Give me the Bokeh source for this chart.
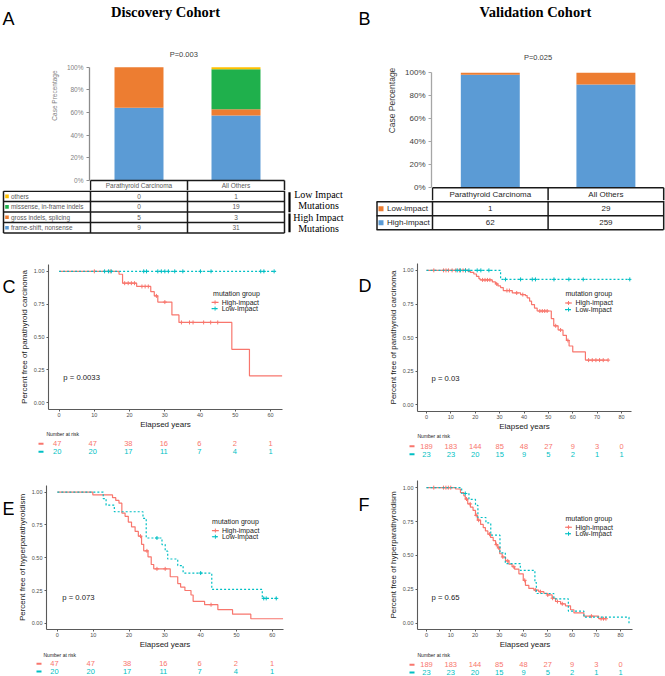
import numpy as np
from bokeh.plotting import figure
from bokeh.models import Range1d, FixedTicker, NumeralTickFormatter
from bokeh.layouts import column, row
from bokeh.embed import file_html
from bokeh.resources import INLINE
from bokeh.core.properties import value

SANS = "Liberation Sans"
SERIF = "Liberation Serif"
RED, TEAL = "#F8766D", "#00BFC4"
BLUE, ORANGE, GREEN, YELLOW = "#5B9BD5", "#ED7D31", "#1FB04C", "#FFC000"
DOT = "2 2"

# ---------------- data: panel A (Discovery cohort) ----------------
a_categories = ["Parathyroid Carcinoma", "All Others"]
a_frameshift = [9, 31]
a_gross = [5, 3]
a_missense = [0, 19]
a_others = [0, 1]
a_row_labels = ["others", "missense, in-frame indels", "gross indels, splicing", "frame-shift, nonsense"]
a_pvalue = "P=0.003"
pct_ticks = [0, 0.2, 0.4, 0.6, 0.8, 1.0]

# ---------------- data: panel B (Validation cohort) ----------------
b_categories = ["Parathyroid Carcinoma", "All Others"]
b_high = [62, 259]
b_low = [1, 29]
b_row_labels = ["Low-impact", "High-impact"]
b_pvalue = "P=0.025"

# ---------------- data: panel C ----------------
c_hi_t = [0, 17, 18, 22, 26, 27, 28, 32, 34, 49, 54]
c_hi_s = [1.0, 0.978, 0.91, 0.885, 0.845, 0.813, 0.766, 0.668, 0.611, 0.406, 0.204]
c_hi_end = 63.3
c_hi_cens = [10, 14.5, 18.6, 19.6, 20.5, 21.4, 23.5, 24.4, 25.3, 27.6, 30, 34.7, 37, 38, 41, 43, 45]
c_lo_t = [0]
c_lo_s = [1.0]
c_lo_end = 61.4
c_lo_cens = [12.9, 14.0, 14.8, 24.0, 24.8, 28.0, 29.0, 30.0, 31.0, 32.8, 35.1, 40.1, 43.1, 57.2, 58.1, 61.0]
c_risk_t = [0, 10, 20, 30, 40, 50, 60]
c_risk_hi = [47, 47, 38, 16, 6, 2, 1]
c_risk_lo = [20, 20, 17, 11, 7, 4, 1]

# ---------------- data: panel D ----------------
d_hi_t = [0, 17, 18, 19.4, 20.5, 21.5, 22, 27, 28.3, 29.3, 30.4, 31.5, 35.2, 38.6, 40.6, 41.3, 42.3,
          43.1, 44.3, 45.4, 51.2, 52.2, 54, 56, 57.4, 58.5, 60, 65.2]
d_hi_s = [1.0, 0.993, 0.985, 0.973, 0.956, 0.938, 0.929, 0.914, 0.899, 0.884, 0.872, 0.85, 0.832, 0.82,
          0.813, 0.796, 0.771, 0.746, 0.72, 0.698, 0.642, 0.588, 0.557, 0.517, 0.479, 0.438, 0.394, 0.333]
d_hi_end = 74.5
d_hi_cens = [3, 7, 8, 9, 10.5, 12, 13.5, 15, 16, 23, 24, 25, 26, 28.8, 33, 34, 37, 39.5, 46.5, 47.5,
             48.5, 49.5, 53, 55, 58, 66.5, 68, 69.5, 71, 72.5, 74.5]
d_lo_t = [0, 30.4]
d_lo_s = [1.0, 0.933]
d_lo_end = 83.4
d_lo_cens = [12.6, 13.9, 16.0, 17.4, 20.8, 22.3, 25.6, 32.4, 38.6, 43.4, 44.7, 52.3, 58.4, 64.3, 83.4]
d_risk_t = [0, 10, 20, 30, 40, 50, 60, 70, 80]
d_risk_hi = [189, 183, 144, 85, 48, 27, 9, 3, 0]
d_risk_lo = [23, 23, 20, 15, 9, 5, 2, 1, 1]

# ---------------- data: panel E ----------------
e_hi_t = [0, 9.9, 15.4, 16.3, 17.2, 18.0, 18.9, 19.8, 20.7, 21.7, 22.6, 23.5, 24.1, 25.3, 26.2, 26.9,
          31.5, 33.6, 34.4, 35.6, 37.3, 37.9, 41.1, 44.8, 48.9, 54.0]
e_hi_s = [1.0, 0.978, 0.957, 0.936, 0.915, 0.84, 0.815, 0.771, 0.735, 0.70, 0.664, 0.602, 0.552, 0.507,
          0.448, 0.415, 0.355, 0.303, 0.276, 0.25, 0.216, 0.167, 0.142, 0.104, 0.07, 0.035]
e_hi_end = 63.0
e_hi_cens = [23.2, 25.0, 27.8, 30.1, 42.9]
e_lo_t = [0, 12.8, 13.6, 15.9, 23.9, 24.8, 29.2, 30.1, 30.8, 33.6, 35.1, 43.1, 57.2]
e_lo_s = [1.0, 0.95, 0.90, 0.85, 0.80, 0.65, 0.60, 0.55, 0.49, 0.44, 0.383, 0.259, 0.19]
e_lo_end = 61.1
e_lo_cens = [27.8, 40.0, 57.6, 58.3, 61.1]
e_risk_t = [0, 10, 20, 30, 40, 50, 60]
e_risk_hi = [47, 47, 38, 16, 6, 2, 1]
e_risk_lo = [20, 20, 17, 11, 7, 4, 1]

# ---------------- data: panel F ----------------
f_hi_t = [0, 12, 14, 15.4, 16, 17, 18.1, 19.2, 20.2, 21, 22.3, 23.4, 24.3, 25.3, 26.4, 27.5, 28.5, 29.4,
          30.2, 31.2, 32.6, 34, 35.3, 36.3, 38.1, 39.9, 40.8, 42.2, 44.3, 46.3, 48.4, 49.8, 51.8, 53.2,
          55.3, 57.3, 59.4, 60.8, 64.9, 71]
f_hi_s = [1.0, 0.99, 0.964, 0.94, 0.916, 0.88, 0.856, 0.832, 0.796, 0.76, 0.729, 0.705, 0.681, 0.657,
          0.633, 0.609, 0.58, 0.556, 0.513, 0.489, 0.46, 0.436, 0.417, 0.40, 0.365, 0.317, 0.28, 0.257,
          0.245, 0.233, 0.221, 0.209, 0.185, 0.161, 0.144, 0.129, 0.10, 0.077, 0.053, 0.034]
f_hi_end = 74.0
f_hi_cens = [3, 7, 8, 9, 10, 16.5, 18, 20.5, 21.5, 26, 28.8, 29.8, 31.5, 33.5, 36, 40.5, 45, 47, 50,
             52, 54, 56, 68, 72, 73, 74]
f_lo_t = [0, 14.5, 17.5, 20.2, 21.2, 24.5, 26.5, 30.3, 32.5, 38.7, 44.7, 45.3, 52.5, 58.5, 64.9, 83.5]
f_lo_s = [1.0, 0.957, 0.913, 0.87, 0.78, 0.74, 0.65, 0.52, 0.44, 0.39, 0.30, 0.22, 0.18, 0.09, 0.045, 0.0]
f_lo_end = 83.5
f_lo_cens = [16.0]
f_risk_t = [0, 10, 20, 30, 40, 50, 60, 70, 80]
f_risk_hi = [189, 183, 144, 85, 48, 27, 9, 3, 0]
f_risk_lo = [23, 23, 20, 15, 9, 5, 2, 1, 1]

km_yticks = [0, 0.25, 0.5, 0.75, 1.0]


# ---------------- helpers ----------------
def new_fig(w, h, xr, yr, ml=0, mr=0, mt=0, mb=0, xloc=None, yloc=None):
    p = figure(width=int(round(w)), height=int(round(h)), x_range=xr, y_range=yr,
               output_backend="svg", toolbar_location=None,
               x_axis_location=xloc, y_axis_location=yloc, min_border=0,
               min_border_left=int(round(ml)), min_border_right=int(round(mr)),
               min_border_top=int(round(mt)), min_border_bottom=int(round(mb)))
    p.outline_line_color = None
    p.xgrid.grid_line_color = None
    p.ygrid.grid_line_color = None
    p.background_fill_color = "white"
    p.border_fill_color = "white"
    return p


def txt(p, x, y, s, size, color="#222222", align="left", baseline="middle", font=SANS,
        style="normal", xr="px", yr="px"):
    p.text(x=list(x), y=list(y), text=list(s), text_font=value(font), text_font_size=size,
           text_color=color, text_align=align, text_baseline=baseline, text_font_style=style,
           x_range_name=xr, y_range_name=yr)


def letter_fig(L, R, T, B, s, x, y):
    p = new_fig(R - L, B - T, Range1d(L, R), Range1d(B, T))
    txt(p, [x], [y], [s], "18px", color="black", baseline="alphabetic", xr="default", yr="default")
    return p


def surv_at(times, surv, t):
    idx = np.searchsorted(np.array(times), np.array(t), side="right") - 1
    return np.array(surv)[idx]


def style_pct_axis(ax, label, tick_size, tick_color, line_color, label_size, standoff):
    ax.bounds = (0, 1)
    ax.ticker = FixedTicker(ticks=pct_ticks)
    ax.formatter = NumeralTickFormatter(format="0%")
    ax.axis_line_color = line_color
    ax.axis_line_width = 1.3
    ax.major_tick_out = 3
    ax.major_tick_in = 0
    ax.major_tick_line_color = line_color
    ax.minor_tick_line_color = None
    ax.major_label_text_font = SANS
    ax.major_label_text_font_size = tick_size
    ax.major_label_text_color = tick_color
    ax.major_label_standoff = 3
    ax.axis_label = label
    ax.axis_label_text_font = SANS
    ax.axis_label_text_font_size = label_size
    ax.axis_label_text_font_style = "normal"
    ax.axis_label_text_color = tick_color
    ax.axis_label_standoff = standoff


# ================= Panel A =================
A_L, A_R, A_T, A_S, A_B, A_LW = 0, 345, 0, 190, 240, 16
ax0, aunit = 90.0, 97.0          # pixel of category boundary 0.5, pixels per category
ay0, ay1 = 180.0, 66.7           # pixel of 0% and 100%
aky = ay0 - ay1
a_fl, a_fr = 89, 286
a_x = list(np.arange(len(a_categories)) + 1)

pA = new_fig(A_R - A_L - A_LW, A_S - A_T,
             Range1d(0.5 + (a_fl - ax0) / aunit, 0.5 + (a_fr - ax0) / aunit),
             Range1d((ay0 - A_S) / aky, (ay0 - A_T) / aky),
             ml=a_fl - A_L - A_LW, mr=A_R - a_fr, yloc="left")
pA.extra_x_ranges = {"px": Range1d(a_fl, a_fr)}
pA.extra_y_ranges = {"px": Range1d(A_S, A_T)}
style_pct_axis(pA.yaxis[0], "Case Precentage", "6.5px", "#7f7f7f", "#8c8c8c", "6.5px", 6)

a_tot = np.array(a_frameshift) + np.array(a_gross) + np.array(a_missense) + np.array(a_others)
bottom = np.zeros(len(a_x))
for vals, col in zip([a_frameshift, a_gross, a_missense, a_others], [BLUE, ORANGE, GREEN, YELLOW]):
    frac = np.array(vals) / a_tot
    pA.vbar(x=a_x, bottom=list(bottom), top=list(bottom + frac), width=0.505,
            fill_color=col, line_color=None)
    bottom = bottom + frac

a_edges = [0.5 + i for i in range(len(a_categories) + 1)]
pA.segment(x0=[a_edges[0]], x1=[a_edges[-1]], y0=[0], y1=[0], line_color="#1a1a1a", line_width=1.5)
pA.segment(x0=a_edges, x1=a_edges, y0=[0] * len(a_edges), y1=[pA.y_range.start] * len(a_edges),
           line_color="#1a1a1a", line_width=1.5)
txt(pA, a_x, [185] * len(a_x), a_categories, "6.5px", color="#595959", align="center", xr="default")
txt(pA, [165], [11.5], ["Discovery Cohort"], "14.5px", color="black", align="center",
    baseline="alphabetic", font=SERIF, style="bold")
txt(pA, [183.3], [54], [a_pvalue], "7.5px", color="#404040", align="center")
letA = letter_fig(A_L, A_L + A_LW, A_T, A_S, "A", 2, 18)

pA2 = new_fig(A_R - A_L, A_B - A_S,
              Range1d(0.5 + (A_L - ax0) / aunit, 0.5 + (A_R - ax0) / aunit),
              Range1d(A_B, A_S))
pA2.extra_x_ranges = {"px": Range1d(A_L, A_R)}
pA2.extra_y_ranges = {"px": Range1d(A_B, A_S)}
a_row_lines = [190.7, 201.1, 211.6, 222.0, 232.5]
pA2.segment(x0=[3] * 5, x1=[284] * 5, y0=a_row_lines, y1=a_row_lines,
            line_color="#1a1a1a", line_width=1.5, x_range_name="px", y_range_name="px")
pA2.segment(x0=[3], x1=[3], y0=[a_row_lines[0]], y1=[a_row_lines[-1]],
            line_color="#1a1a1a", line_width=1.5, x_range_name="px", y_range_name="px")
pA2.segment(x0=a_edges, x1=a_edges, y0=[A_S] * len(a_edges), y1=[a_row_lines[-1]] * len(a_edges),
            line_color="#1a1a1a", line_width=1.5)
a_row_vals = [a_others, a_missense, a_gross, a_frameshift]
a_row_cols = [YELLOW, GREEN, ORANGE, BLUE]
a_row_y = [(a_row_lines[i] + a_row_lines[i + 1]) / 2 for i in range(4)]
pA2.rect(x=[6.5] * 4, y=a_row_y, width=3.6, height=3.6, fill_color=a_row_cols, line_color=None,
         x_range_name="px", y_range_name="px")
txt(pA2, [10.5] * 4, a_row_y, a_row_labels, "6.4px", color="#595959")
for i, vals in enumerate(a_row_vals):
    txt(pA2, a_x, [a_row_y[i]] * len(a_x), [str(v) for v in vals], "6.5px", color="#595959",
        align="center", xr="default")
pA2.segment(x0=[289, 289], x1=[289, 289], y0=[191.7, 213.0], y1=[211.7, 231.7],
            line_color="black", line_width=2.2, x_range_name="px", y_range_name="px")
txt(pA2, [318] * 4, [194, 205, 217, 228], ["Low Impact", "Mutations", "High Impact", "Mutations"],
    "10px", color="black", align="center", font=SERIF)

# ================= Panel B =================
B_L, B_R, B_T, B_S, B_B, B_LW = 345, 665, 0, 200, 240, 26
bx0, bunit = 432.0, 115.6
by0, by1 = 187.3, 72.3
bky = by0 - by1
b_fl, b_fr = 431, 665
b_x = list(np.arange(len(b_categories)) + 1)

pB = new_fig(B_R - B_L - B_LW, B_S - B_T,
             Range1d(0.5 + (b_fl - bx0) / bunit, 0.5 + (b_fr - bx0) / bunit),
             Range1d((by0 - B_S) / bky, (by0 - B_T) / bky),
             ml=b_fl - B_L - B_LW, mr=B_R - b_fr, yloc="left")
pB.extra_x_ranges = {"px": Range1d(b_fl, b_fr)}
pB.extra_y_ranges = {"px": Range1d(B_S, B_T)}
style_pct_axis(pB.yaxis[0], "Case Percentage", "8px", "#404040", "#a6a6a6", "8.5px", 5)

b_tot = np.array(b_high) + np.array(b_low)
b_hf = np.array(b_high) / b_tot
pB.vbar(x=b_x, bottom=[0] * len(b_x), top=list(b_hf), width=0.51, fill_color=BLUE, line_color=None)
pB.vbar(x=b_x, bottom=list(b_hf), top=list(b_hf + np.array(b_low) / b_tot), width=0.51,
        fill_color=ORANGE, line_color=None)
b_edges = [0.5 + i for i in range(len(b_categories) + 1)]
pB.segment(x0=[b_edges[0]], x1=[b_edges[-1]], y0=[0], y1=[0], line_color="#1a1a1a", line_width=1.5)
pB.segment(x0=b_edges, x1=b_edges, y0=[0] * len(b_edges), y1=[pB.y_range.start] * len(b_edges),
           line_color="#1a1a1a", line_width=1.5)
txt(pB, b_x, [194.3] * len(b_x), b_categories, "8px", color="#262626", align="center", xr="default")
txt(pB, [535], [11.5], ["Validation Cohort"], "14.5px", color="black", align="center",
    baseline="alphabetic", font=SERIF, style="bold")
txt(pB, [537.5], [56.7], [b_pvalue], "7.5px", color="#404040", align="center")
letB = letter_fig(B_L, B_L + B_LW, B_T, B_S, "B", 358, 18)

pB2 = new_fig(B_R - B_L, B_B - B_S,
              Range1d(0.5 + (B_L - bx0) / bunit, 0.5 + (B_R - bx0) / bunit),
              Range1d(B_B, B_S))
pB2.extra_x_ranges = {"px": Range1d(B_L, B_R)}
pB2.extra_y_ranges = {"px": Range1d(B_B, B_S)}
b_row_lines = [201.3, 215.3, 229.3]
pB2.segment(x0=[376] * 3, x1=[663] * 3, y0=b_row_lines, y1=b_row_lines,
            line_color="#1a1a1a", line_width=1.5, x_range_name="px", y_range_name="px")
pB2.segment(x0=[376.5], x1=[376.5], y0=[b_row_lines[0]], y1=[b_row_lines[-1]],
            line_color="#1a1a1a", line_width=1.5, x_range_name="px", y_range_name="px")
pB2.segment(x0=b_edges, x1=b_edges, y0=[B_S] * len(b_edges), y1=[b_row_lines[-1]] * len(b_edges),
            line_color="#1a1a1a", line_width=1.5)
b_row_y = [(b_row_lines[i] + b_row_lines[i + 1]) / 2 for i in range(2)]
pB2.rect(x=[380.5] * 2, y=b_row_y, width=5, height=5, fill_color=[ORANGE, BLUE], line_color=None,
         x_range_name="px", y_range_name="px")
txt(pB2, [386.5] * 2, b_row_y, b_row_labels, "8px", color="#262626")
for i, vals in enumerate([b_low, b_high]):
    txt(pB2, b_x, [b_row_y[i]] * len(b_x), [str(v) for v in vals], "8px", color="#262626",
        align="center", xr="default")


# ================= KM panels =================
def km_panel(L, R, T, S, B, LW, frame, xmap, ymap, xticks, ylabel, curves, pval, pval_xy, leg,
             letter_s, letter_xy, risk_t, risk_hi, risk_lo, risk_geo):
    fl, fr, ft, fb = frame
    x0px, kx = xmap
    y1px, y0px = ymap
    ky = y0px - y1px
    p = new_fig(R - L - LW, S - T, Range1d((fl - x0px) / kx, (fr - x0px) / kx),
                Range1d((y0px - fb) / ky, (y0px - ft) / ky),
                ml=fl - L - LW, mr=R - fr, mt=ft - T, mb=S - fb, xloc="below", yloc="left")
    p.extra_x_ranges = {"px": Range1d(fl, fr)}
    p.extra_y_ranges = {"px": Range1d(fb, ft)}
    for ax in (p.xaxis[0], p.yaxis[0]):
        ax.axis_line_color = "#5a5a5a"
        ax.axis_line_width = 1.1
        ax.major_tick_line_color = "#5a5a5a"
        ax.major_tick_out = 2
        ax.major_tick_in = 0
        ax.minor_tick_line_color = None
        ax.major_label_text_font = SANS
        ax.major_label_text_font_size = "5.5px"
        ax.major_label_text_color = "#4d4d4d"
        ax.axis_label_text_font = SANS
        ax.axis_label_text_font_size = "8px"
        ax.axis_label_text_font_style = "normal"
        ax.axis_label_text_color = "#1a1a1a"
    p.xaxis[0].ticker = FixedTicker(ticks=xticks)
    p.yaxis[0].ticker = FixedTicker(ticks=km_yticks)
    p.yaxis[0].formatter = NumeralTickFormatter(format="0.00")
    p.xaxis[0].axis_label = "Elapsed years"
    p.yaxis[0].axis_label = ylabel
    p.xaxis[0].major_label_standoff = 1
    p.yaxis[0].major_label_standoff = 2
    p.xaxis[0].axis_label_standoff = 0
    p.yaxis[0].axis_label_standoff = 2

    for (t, s, end, cens, color, dash) in curves:
        p.step(x=list(t) + [end], y=list(s) + [s[-1]], mode="after", line_color=color,
               line_width=1.2, line_dash=dash)
        if len(cens):
            p.scatter(x=list(cens), y=list(surv_at(t, s, cens)), marker="cross", size=4,
                      line_color=color, line_width=1)

    txt(p, [pval_xy[0]], [pval_xy[1]], [pval], "7.7px", color="#1a1a1a")
    (tx, ty), sx, lx, (yh, yl) = leg
    txt(p, [tx], [ty], ["mutation group"], "7px", color="#1a1a1a")
    for yy, col, dash, lab in [(yh, RED, "solid", "High-impact"), (yl, TEAL, DOT, "Low-Impact")]:
        p.segment(x0=[sx - 3.5], x1=[sx + 3.5], y0=[yy], y1=[yy], line_color=col, line_width=1.2,
                  line_dash=dash, x_range_name="px", y_range_name="px")
        p.scatter(x=[sx], y=[yy], marker="cross", size=4, line_color=col,
                  x_range_name="px", y_range_name="px")
        txt(p, [lx], [yy], [lab], "7px", color="#1a1a1a")
    pl = letter_fig(L, L + LW, T, S, letter_s, letter_xy[0], letter_xy[1])

    p2 = new_fig(R - L, B - S, Range1d((L - x0px) / kx, (R - x0px) / kx), Range1d(B, S))
    p2.extra_x_ranges = {"px": Range1d(L, R)}
    (nx, ny), (r1, r2), (d0, d1) = risk_geo
    txt(p2, [nx], [ny], ["Number at risk"], "5px", color="#1a1a1a", yr="default")
    for yy, col, vals in [(r1, RED, risk_hi), (r2, TEAL, risk_lo)]:
        p2.segment(x0=[d0], x1=[d1], y0=[yy], y1=[yy], line_color=col, line_width=2,
                   x_range_name="px")
        txt(p2, risk_t, [yy] * len(risk_t), [str(v) for v in vals], "7.5px", color=col,
            align="center", xr="default", yr="default")
    return column(row(pl, p), row(p2))


colC = km_panel(0, 345, 240, 431, 460, 16, (46, 282, 264, 412), (56.7, 3.555), (271, 405),
                c_risk_t, "Percent free of parathyroid carcinoma",
                [(c_hi_t, c_hi_s, c_hi_end, c_hi_cens, RED, "solid"),
                 (c_lo_t, c_lo_s, c_lo_end, c_lo_cens, TEAL, DOT)],
                "p = 0.0033", (61, 379), ((212, 293.3), 214, 220.7, (302.7, 309)),
                "C", (2, 269), c_risk_t, c_risk_hi, c_risk_lo,
                ((46, 433.5), (443.3, 451.3), (38, 43)))

colD = km_panel(345, 665, 240, 433, 460, 26, (417, 631, 263, 414), (426, 2.4375), (270, 407.3),
                d_risk_t, "Percent free of parathyroid carcinoma",
                [(d_hi_t, d_hi_s, d_hi_end, d_hi_cens, RED, "solid"),
                 (d_lo_t, d_lo_s, d_lo_end, d_lo_cens, TEAL, DOT)],
                "p = 0.03", (431, 380), ((565, 294), 568, 575, (303.3, 310)),
                "D", (358, 269), d_risk_t, d_risk_hi, d_risk_lo,
                ((417, 435.5), (445.7, 453.7), (409, 414)))

colE = km_panel(0, 345, 460, 651, 676, 14, (43, 283, 485, 632), (54, 3.628), (491.7, 625.7),
                e_risk_t, "Percent free of hyperparathyroidism",
                [(e_hi_t, e_hi_s, e_hi_end, e_hi_cens, RED, "solid"),
                 (e_lo_t, e_lo_s, e_lo_end, e_lo_cens, TEAL, DOT)],
                "p = 0.073", (59, 599), ((210.7, 521.7), 214, 220.7, (531, 537.3)),
                "E", (2, 491), e_risk_t, e_risk_hi, e_risk_lo,
                ((43, 654.5), (663.3, 671), (36, 41)))

colF = km_panel(345, 665, 460, 651, 676, 26, (417, 632, 480, 632), (426, 2.425), (487.3, 625.7),
                f_risk_t, "Percent free of hyperparathyroidism",
                [(f_hi_t, f_hi_s, f_hi_end, f_hi_cens, RED, "solid"),
                 (f_lo_t, f_lo_s, f_lo_end, f_lo_cens, TEAL, DOT)],
                "p = 0.65", (431, 599), ((565, 519), 568, 575, (527.7, 534.3)),
                "F", (358, 491), f_risk_t, f_risk_hi, f_risk_lo,
                ((417, 654.5), (664.3, 672), (409, 414)))

layout = column(
    row(column(row(letA, pA), row(pA2)), column(row(letB, pB), row(pB2))),
    row(colC, colD),
    row(colE, colF),
)

open("out.html", "w").write(file_html(layout, INLINE, "chart"))
